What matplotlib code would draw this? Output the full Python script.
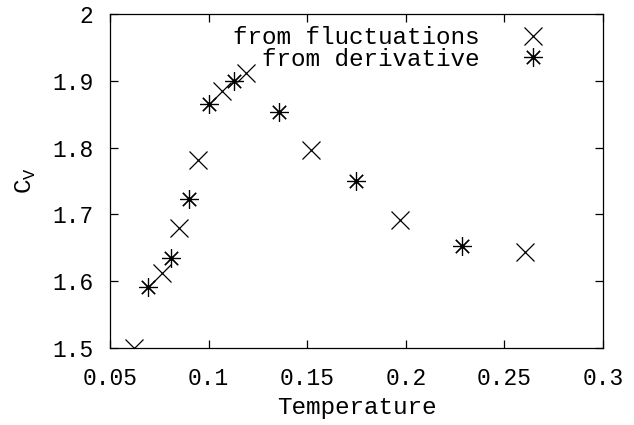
import matplotlib
matplotlib.use("Agg")
import matplotlib.pyplot as plt

# data: "from fluctuations" (crosses)
fluct_T = [0.062, 0.0762, 0.0851, 0.0944, 0.1066, 0.1189, 0.1518, 0.1969, 0.2602]
fluct_C = [1.500, 1.613, 1.679, 1.781, 1.884, 1.912, 1.796, 1.691, 1.643]

# data: "from derivative" (asterisks)
deriv_T = [0.0694, 0.0809, 0.0902, 0.1003, 0.1128, 0.1356, 0.1745, 0.2287]
deriv_C = [1.591, 1.634, 1.723, 1.865, 1.899, 1.854, 1.750, 1.653]

xticks = [0.05, 0.1, 0.15, 0.2, 0.25, 0.3]
xticklabels = ["0.05", "0.1", "0.15", "0.2", "0.25", "0.3"]
yticks = [1.5, 1.6, 1.7, 1.8, 1.9, 2.0]
yticklabels = ["1.5", "1.6", "1.7", "1.8", "1.9", "2"]

plt.rcParams['font.family'] = ['Liberation Mono', 'DejaVu Sans Mono']

fig = plt.figure(figsize=(6.34, 4.25), dpi=100)
ax = fig.add_axes([110/634, 1 - 348/425, (603-110)/634, (348-14)/425])

ax.plot(fluct_T, fluct_C, linestyle='none', marker='x', markersize=13,
        markeredgewidth=0.9, color='black', label='from fluctuations')
ax.plot(deriv_T, deriv_C, linestyle='none', marker=(8, 2, 0), markersize=13.5,
        markeredgewidth=0.85, color='black', label='from derivative')

ax.set_xlim(0.05, 0.3)
ax.set_ylim(1.5, 2.0)
ax.set_xticks(xticks)
ax.set_xticklabels(xticklabels)
ax.set_yticks(yticks)
ax.set_yticklabels(yticklabels)
ax.tick_params(direction='in', top=True, right=True, length=6, width=0.9,
               labelsize=16.5)
ax.tick_params(axis='x', pad=14)
ax.tick_params(axis='y', pad=12)
for s in ax.spines.values():
    s.set_linewidth(0.9)

ax.set_xlabel('Temperature', fontsize=17.5, labelpad=4)
ax.set_ylabel(r'C$_\mathregular{V}$', fontsize=17.5, labelpad=10)

leg = ax.legend(loc='upper right', bbox_to_anchor=(0.913, 1.0), frameon=False,
                markerfirst=False, fontsize=17.5, handlelength=1.2,
                handletextpad=1.6, borderaxespad=0.1, labelspacing=-0.05)
for t in leg.get_texts():
    t.set_ha('right')

fig.savefig('out.png', dpi=100)
